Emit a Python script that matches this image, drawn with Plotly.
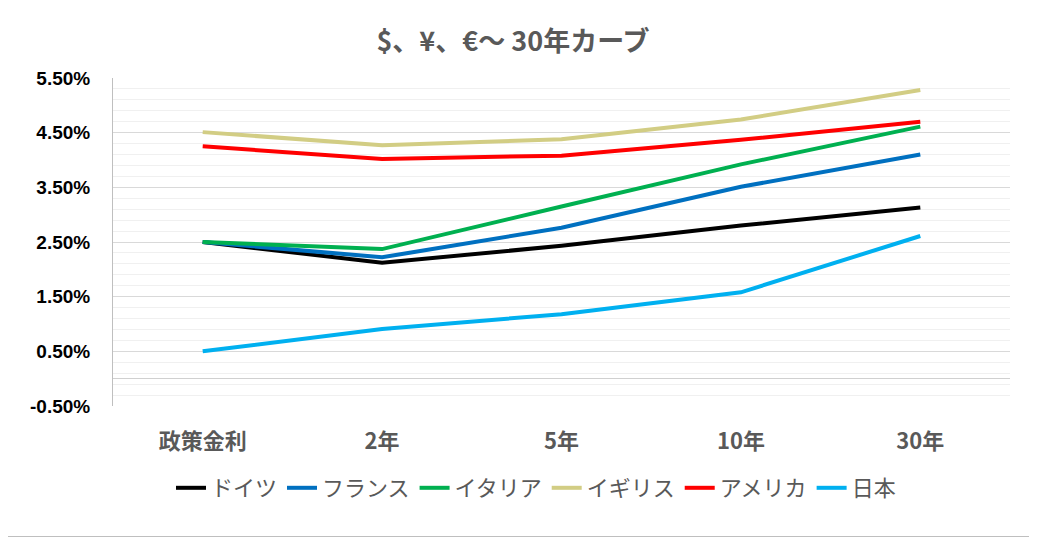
import plotly.graph_objects as go

categories = ["政策金利", "2年", "5年", "10年", "30年"]
series_names = ["ドイツ", "フランス", "イタリア", "イギリス", "アメリカ", "日本"]
germany = [2.50, 2.12, 2.43, 2.80, 3.13]
france = [2.50, 2.22, 2.76, 3.51, 4.10]
italy = [2.50, 2.37, 3.15, 3.92, 4.61]
uk = [4.51, 4.27, 4.38, 4.74, 5.28]
usa = [4.25, 4.02, 4.08, 4.37, 4.70]
japan = [0.50, 0.91, 1.18, 1.58, 2.61]
colors = ["#000000", "#0070c0", "#00b050", "#d2cd84", "#ff0000", "#00b0f0"]
ytick_vals = [-0.5, 0.5, 1.5, 2.5, 3.5, 4.5, 5.5]
ytick_text = ["-0.50%", "0.50%", "1.50%", "2.50%", "3.50%", "4.50%", "5.50%"]

all_series = [germany, france, italy, uk, usa, japan]

fig = go.Figure()
for name, vals, col in zip(series_names, all_series, colors):
    fig.add_trace(go.Scatter(
        x=categories, y=vals, name=name, mode="lines",
        line=dict(color=col, width=4),
    ))

OFF = 8  # page body offset
W, H = 1037, 537
pw, ph = 897, 328
L, T = 113 - OFF, 78 - OFF
R = W - L - pw
B = H - T - ph

fig.update_layout(
    width=W, height=H,
    margin=dict(l=L, r=R, t=T, b=B),
    paper_bgcolor="white", plot_bgcolor="white",
    title=dict(text="<b>$、¥、€～ 30年カーブ</b>", x=(513 - OFF) / W, xanchor="center",
               y=1 - (42 - OFF) / H, yanchor="middle",
               font=dict(family="Noto Sans CJK JP", size=27, color="#595959")),
    showlegend=True,
    legend=dict(orientation="h", x=(536 - 113) / pw, xanchor="center",
                y=-(488 - 406) / ph, yanchor="middle",
                font=dict(family="Noto Sans CJK JP", size=22, color="#595959"),
                itemwidth=30, tracegroupgap=0),
    xaxis=dict(
        type="category", range=[-0.5, 4.5], showgrid=False, showline=False,
        ticks="", tickfont=dict(family="Noto Sans CJK JP", size=22, color="#595959",
                                weight="bold"),
        ticklabelstandoff=20,
    ),
    yaxis=dict(
        range=[-0.5, 5.5], tickvals=ytick_vals, ticktext=ytick_text,
        showgrid=True, gridcolor="#d9d9d9", gridwidth=1,
        zeroline=True, zerolinecolor="#d0d0d0", zerolinewidth=1,
        showline=True, linecolor="#bfbfbf", linewidth=1,
        ticks="", ticklabelstandoff=18,
        tickfont=dict(family="Liberation Sans", size=19, color="#000000", weight="bold"),
        minor=dict(tick0=-0.5, dtick=0.2, showgrid=True, gridcolor="#f0f0f0", gridwidth=1),
    ),
    shapes=[dict(type="rect", xref="paper", yref="paper",
                 x0=(0.5 - 113) / pw, x1=(1036.5 - 113) / pw,
                 y0=-(536.5 - 406) / ph, y1=1 + (78 - 0.5) / ph,
                 line=dict(color="#bfbfbf", width=1), layer="below")],
)

fig.write_html("out.html")
